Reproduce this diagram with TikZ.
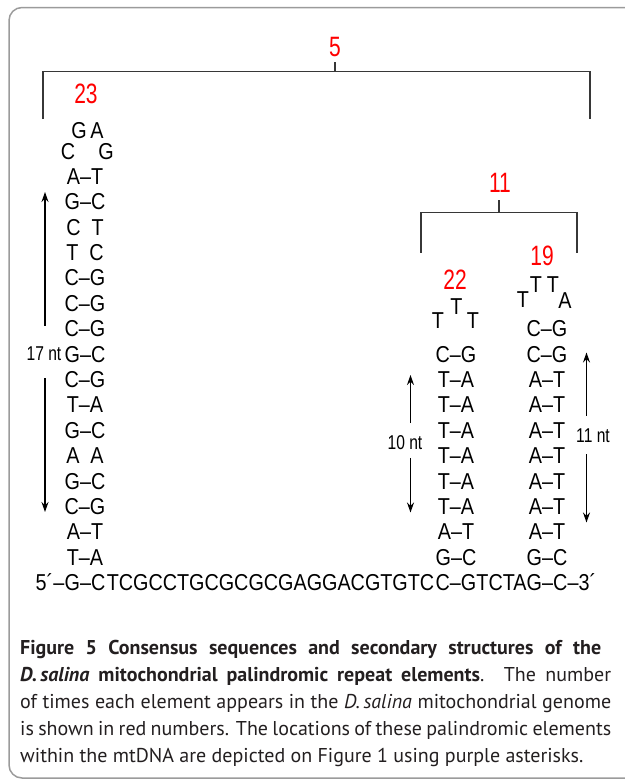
\documentclass[tikz,border=0pt]{standalone}
\usepackage{fontspec}
\setmainfont{PT Sans}
\newfontfamily\seqfont[FakeStretch=0.86]{Liberation Sans}
\newfontfamily\numfont[FakeStretch=0.75]{Liberation Sans}
\newfontfamily\ntfont[FakeStretch=0.78]{Liberation Sans}
\usetikzlibrary{arrows.meta,calc}
\definecolor{framegray}{RGB}{155,155,155}
\definecolor{linegray}{RGB}{55,55,55}
\definecolor{numred}{RGB}{255,0,0}
\definecolor{captext}{RGB}{35,31,32}
\tikzset{
    base/.style={inner sep=0pt, text height=16.5pt, text depth=0pt,
            font=\seqfont\fontsize{23}{23}\selectfont},
    count/.style={inner sep=0pt, text=numred,
            font=\numfont\fontsize{28}{28}\selectfont},
    ntlabel/.style={inner sep=0pt, text height=14.3pt, text depth=0pt,
            font=\ntfont\fontsize{20}{20}\selectfont},
    bracket/.style={draw=linegray, line width=1.4pt},
    span/.style={draw=black, line width=1.1pt, -{Stealth[length=10pt,width=7pt]}},
    capline/.style={inner sep=0pt, anchor=base west, text=captext,
            font=\fontsize{20}{24}\selectfont},
}

\begin{document}
\begin{tikzpicture}[x=1pt, y=-1pt]
        \useasboundingbox (0,0) rectangle (624,779);
        %draw frame
        \draw[framegray, line width=1.5pt, rounded corners=13pt] (9,7.5) rectangle (650,778);
        %draw counts and brackets
        \node[count] (n5) at (335,47) {5};
        \node[count] (n11) at (500,182.5) {11};
        \node[count] (n23) at (86,94) {23};
        \node[count] (n22) at (455,280) {22};
        \node[count] (n19) at (542,256) {19};
        \coordinate (b5l) at (43,119);
        \coordinate (b5t) at (335,71.5);
        \coordinate (b5r) at (590,119);
        \coordinate (b11l) at (421,252.5);
        \coordinate (b11t) at (499,212.5);
        \coordinate (b11r) at (577,252.5);
        \draw[bracket] (b5l) |- (b5t) -| (b5r);
        \draw[bracket] (b5t) -- ++(0,-9.5);
        \draw[bracket] (b11l) |- (b11t) -| (b11r);
        \draw[bracket] (b11t) -- ++(0,-12.5);
        %left hairpin
        \node[base] (l1) at (79,130) {G};
        \node[base] (l2) at (97,130) {A};
        \node[base] (l3) at (68,151) {C};
        \node[base] (l4) at (106,151) {G};
        \foreach \row/\pair in {16/A–T, 15/G–C, 14/{C\hphantom{–}T}, 13/{T\hphantom{–}C},
                12/C–G, 11/C–G, 10/C–G, 9/G–C, 8/C–G, 7/T–A, 6/G–C, 5/{A\hphantom{–}A},
                4/G–C, 3/C–G, 2/A–T, 1/T–A}
            \node[base] (L\row) at (85,{582.5-25.4*\row}) {\pair};
        %middle hairpin
        \node[base] (m1) at (438,320) {T};
        \node[base] (m2) at (456.5,306) {T};
        \node[base] (m3) at (473,320) {T};
        \foreach \row/\pair in {9/C–G, 8/T–A, 7/T–A, 6/T–A, 5/T–A, 4/T–A, 3/T–A, 2/A–T, 1/G–C}
            \node[base] (M\row) at (456,{582.5-25.4*\row}) {\pair};
        %right hairpin
        \node[base] (r1) at (523,299) {T};
        \node[base] (r2) at (536,284) {T};
        \node[base] (r3) at (553,284) {T};
        \node[base] (r4) at (565,300) {A};
        \foreach \row/\pair in {10/C–G, 9/C–G, 8/A–T, 7/A–T, 6/A–T, 5/A–T, 4/A–T, 3/A–T, 2/A–T, 1/G–C}
            \node[base] (R\row) at (547,{582.5-25.4*\row}) {\pair};
        %base strand
        \node[base] (B0) at (85,582.5) {G–C};
        \node[base] (B22) at (456,582.5) {C–G};
        \node[base] (B19) at (547,582.5) {G–C};
        \node[base, anchor=east] (B5) at (B0.west) {5´–\hspace{8pt}};
        \node[base] (Bm1) at ($(B0.east)!0.5!(B22.west)$) {TCGCCTGCGCGCGAGGACGTGTC};
        \node[base] (Bm2) at ($(B22.east)!0.5!(B19.west)$) {TCTA};
        \node[base, anchor=west] (B3) at (B19.east) {–3´};
        %length arrows
        \node[ntlabel] (nt17) at (44,353) {17 nt};
        \node[ntlabel] (nt10) at (405,442.5) {10 nt};
        \node[ntlabel] (nt11) at (593,435) {11 nt};
        \coordinate (u17) at (45,192);
        \coordinate (d17) at (45,512);
        \coordinate (u10) at (410.5,375);
        \coordinate (d10) at (410.5,512.5);
        \coordinate (u11) at (586.5,352.5);
        \coordinate (d11) at (586.5,522.5);
        \draw[span] ([yshift=20pt]nt17.north -| u17) -- (u17);
        \draw[span] ([yshift=-18pt]nt17.south -| d17) -- (d17);
        \draw[span] ([yshift=12pt]nt10.north -| u10) -- (u10);
        \draw[span] ([yshift=-8pt]nt10.south -| d10) -- (d10);
        \draw[span] ([yshift=12pt]nt11.north -| u11) -- (u11);
        \draw[span] ([yshift=-12pt]nt11.south -| d11) -- (d11);
        %caption
        \node[capline] (cap1) at (20,654) {\makebox[581pt][s]{\textbf{Figure 5 Consensus sequences and secondary structures of the}}};
        \node[capline] (cap2) at (20,681) {\makebox[591pt][s]{\textbf{\textit{D.\,salina} mitochondrial palindromic repeat elements}. The number}};
        \node[capline] (cap3) at (20,708) {\makebox[591pt][s]{of times each element appears in the \textit{D.\,salina} mitochondrial genome}};
        \node[capline] (cap4) at (20,735) {\makebox[591pt][s]{is shown in red numbers. The locations of these palindromic elements}};
        \node[capline] (cap5) at (20,762) {within the mtDNA are depicted on Figure 1 using purple asterisks.};
    \end{tikzpicture}
\end{document}
